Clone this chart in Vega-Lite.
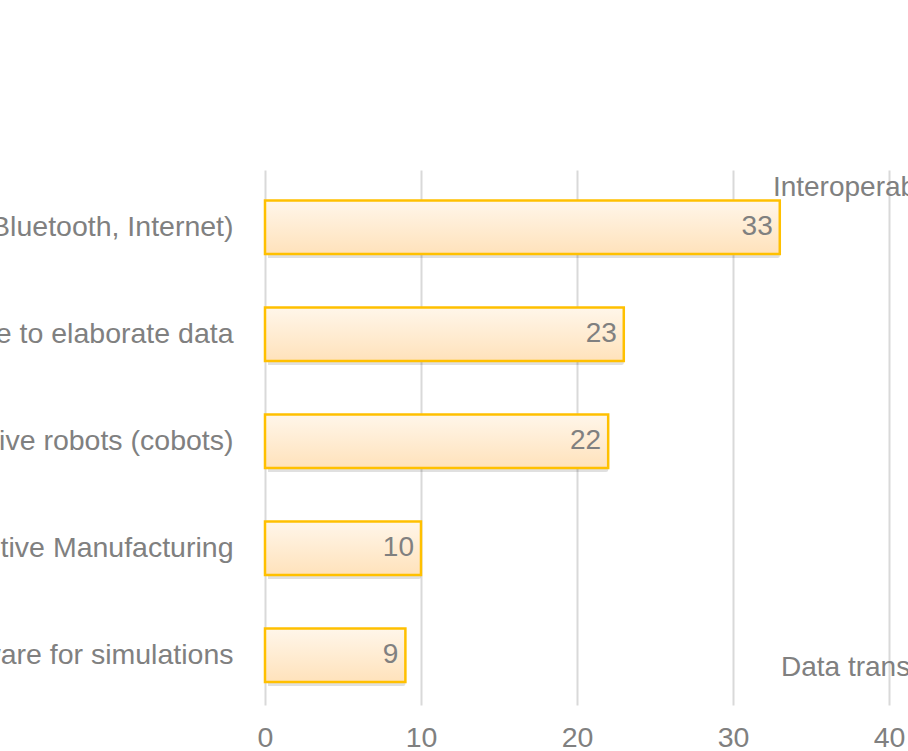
{
  "$schema": "https://vega.github.io/schema/vega-lite/v6.json",
  "autosize": {"type": "none"},
  "padding": {"left": 265, "top": 170, "right": 0, "bottom": 46},
  "width": 643,
  "height": 535,
  "background": "white",
  "config": {
    "view": {"stroke": null},
    "font": "Liberation Sans",
    "axis": {"labelFont": "Liberation Sans", "labelColor": "#808080", "labelFontSize": 28.5}
  },
  "datasets": {
    "bars": [
      {"tech": "Wireless connectivity (Wi-Fi, Bluetooth, Internet)", "value": 33},
      {"tech": "Cloud storage to elaborate data", "value": 23},
      {"tech": "Collaborative robots (cobots)", "value": 22},
      {"tech": "Additive Manufacturing", "value": 10},
      {"tech": "Software for simulations", "value": 9}
    ],
    "top_note": [{"tech": "Wireless connectivity (Wi-Fi, Bluetooth, Internet)", "value": 32.56, "label": "Interoperability"}],
    "bottom_note": [{"tech": "Software for simulations", "value": 33.08, "label": "Data transmission"}]
  },
  "encoding": {
    "y": {
      "field": "tech", "type": "nominal", "sort": null, "title": null,
      "scale": {"paddingInner": 0.5, "paddingOuter": 0.25, "align": 0.57},
      "axis": {"domain": false, "ticks": false, "labelPadding": 32, "labelLimit": 3000, "grid": false}
    },
    "x": {
      "field": "value", "type": "quantitative", "title": null,
      "scale": {"domain": [0, 41.22], "nice": false, "zero": true},
      "axis": {"values": [0, 10, 20, 30, 40], "domain": false, "ticks": false, "labelPadding": 18,
               "grid": true, "gridColor": "#d9d9d9", "gridWidth": 2, "labelFlush": false}
    }
  },
  "layer": [
    {
      "data": {"name": "bars"},
      "mark": {"type": "bar", "fill": "#000000", "fillOpacity": 0.12, "xOffset": 3, "yOffset": 4, "cornerRadius": 2}
    },
    {
      "data": {"name": "bars"},
      "mark": {
        "type": "bar",
        "stroke": "#ffc000",
        "strokeWidth": 2.5,
        "fill": {
          "gradient": "linear", "x1": 0, "y1": 0, "x2": 0, "y2": 1,
          "stops": [{"offset": 0, "color": "#fff6ea"}, {"offset": 1, "color": "#ffe2bb"}]
        }
      }
    },
    {
      "data": {"name": "bars"},
      "mark": {"type": "text", "align": "right", "baseline": "middle", "dx": -7, "fontSize": 28, "color": "#808080"},
      "encoding": {"text": {"field": "value", "type": "quantitative"}}
    },
    {
      "data": {"name": "top_note"},
      "mark": {"type": "text", "align": "left", "baseline": "middle", "dy": -39, "fontSize": 28, "color": "#808080"},
      "encoding": {"text": {"field": "label"}}
    },
    {
      "data": {"name": "bottom_note"},
      "mark": {"type": "text", "align": "left", "baseline": "middle", "dy": 13, "fontSize": 28, "color": "#808080"},
      "encoding": {"text": {"field": "label"}}
    }
  ]
}
